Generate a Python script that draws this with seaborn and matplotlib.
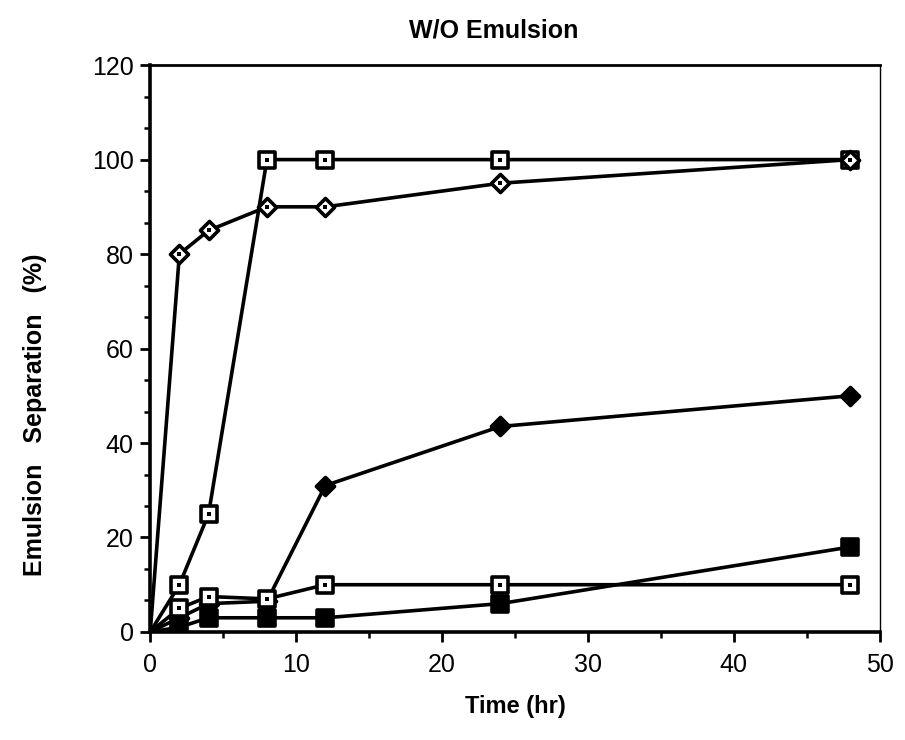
import matplotlib
matplotlib.use("Agg")
import matplotlib.pyplot as plt
from matplotlib.ticker import MultipleLocator
import seaborn as sns
import pandas as pd

time_hr = [0, 2, 4, 8, 12, 24, 48]
open_sq_high = [0, 10, 25, 100, 100, 100, 100]
open_diamond = [0, 80, 85, 90, 90, 95, 100]
filled_diamond = [0, 3, 6, 6.5, 31, 43.5, 50]
open_sq_low = [0, 5, 7.5, 7, 10, 10, 10]
filled_sq = [0, 1, 3, 3, 3, 6, 18]

series = [
    ("open_sq_high", open_sq_high, "s", "white"),
    ("open_diamond", open_diamond, "D", "white"),
    ("filled_diamond", filled_diamond, "D", "black"),
    ("open_sq_low", open_sq_low, "s", "white"),
    ("filled_sq", filled_sq, "s", "black"),
]

sns.set_style("ticks")
plt.rcParams['font.family'] = ['Liberation Sans', 'DejaVu Sans']
plt.rcParams['text.color'] = 'black'
plt.rcParams['xtick.color'] = 'black'
plt.rcParams['ytick.color'] = 'black'
plt.rcParams['axes.labelcolor'] = 'black'
plt.rcParams['axes.edgecolor'] = 'black'

fig = plt.figure(figsize=(9.05, 7.4), dpi=100)
ax = fig.add_axes([0.166, 0.146, 0.806, 0.766])

for name, vals, mk, face in series:
    df = pd.DataFrame({"t": time_hr, "v": vals})
    sns.lineplot(data=df, x="t", y="v", ax=ax, color="black", lw=2.6,
                 estimator=None, sort=False, zorder=2)
    dm = df.iloc[1:]
    msize = 120 if mk == "s" else 85
    sns.scatterplot(data=dm, x="t", y="v", ax=ax, marker=mk, s=msize,
                    facecolor=face, edgecolor="black", linewidth=2.6, zorder=3)
    if face == "white":
        sns.scatterplot(data=dm, x="t", y="v", ax=ax, marker="s", s=5,
                        color="black", linewidth=0, zorder=4)

ax.set_xlim(0, 50)
ax.set_ylim(0, 120)
ax.xaxis.set_major_locator(MultipleLocator(10))
ax.xaxis.set_minor_locator(MultipleLocator(5))
ax.yaxis.set_major_locator(MultipleLocator(20))
ax.yaxis.set_minor_locator(MultipleLocator(20 / 3))
ax.tick_params(which="major", direction="out", length=7, width=2, labelsize=18, pad=8)
ax.tick_params(axis="y", which="major", pad=5)
ax.tick_params(which="minor", direction="out", length=4, width=1.8)

for side in ["left", "bottom"]:
    ax.spines[side].set_linewidth(2.6)
ax.spines["top"].set_visible(True)
ax.spines["right"].set_visible(True)
ax.spines["top"].set_linewidth(2.0)
ax.spines["right"].set_linewidth(1.0)

ax.set_xlabel("Time (hr)", fontsize=17, fontweight="bold")
ax.xaxis.set_label_coords(0.5, -0.111)
ax.set_ylabel("Emulsion   Separation   (%)", fontsize=18, fontweight="bold")
ax.yaxis.set_label_coords(-0.142, 0.383)
fig.text(494 / 905, 1 - 30 / 740, "W/O Emulsion", fontsize=18, fontweight="bold",
         ha="center", va="center")

fig.savefig("out.png", dpi=100)
